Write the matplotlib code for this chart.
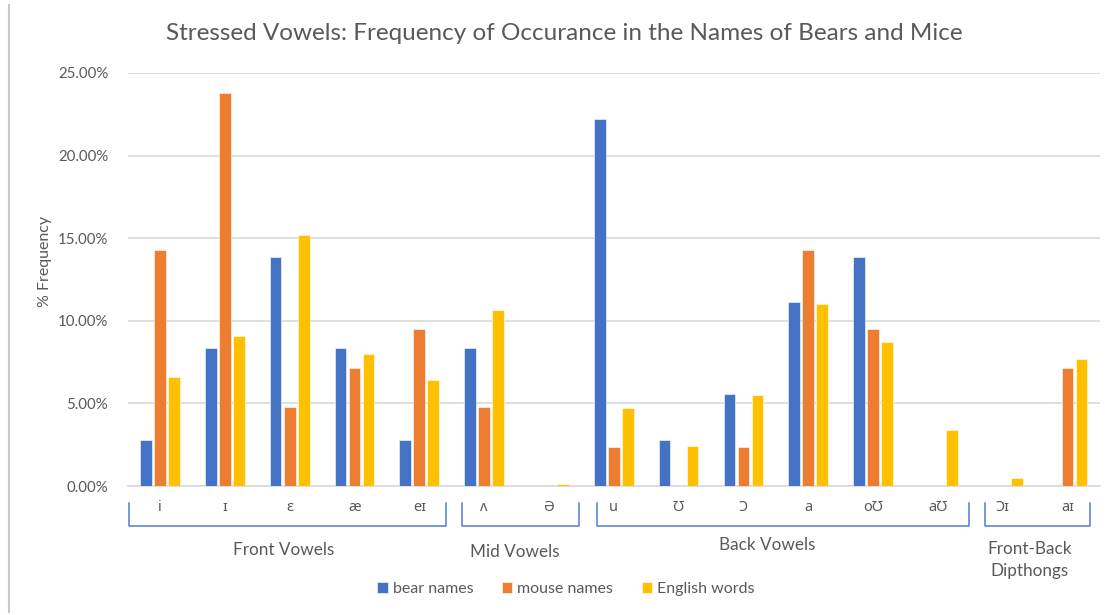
import matplotlib
matplotlib.use("Agg")
import matplotlib.pyplot as plt
import matplotlib.transforms as mtransforms
from matplotlib.lines import Line2D
import numpy as np

plt.rcParams['font.family'] = ['Lato', 'Noto Sans', 'DejaVu Sans']

categories = ["i", "ɪ", "ɛ", "æ", "eɪ", "ʌ", "Ə", "u", "Ʊ", "Ɔ", "a", "oƱ", "aƱ", "Ɔɪ", "aɪ"]
bear_names = [2.78, 8.33, 13.89, 8.33, 2.78, 8.33, 0.0, 22.22, 2.78, 5.56, 11.11, 13.89, 0.0, 0.0, 0.0]
mouse_names = [14.29, 23.81, 4.76, 7.14, 9.52, 4.76, 0.0, 2.38, 0.0, 2.38, 14.29, 9.52, 0.0, 0.0, 7.14]
english_words = [6.6, 9.1, 15.2, 8.0, 6.4, 10.65, 0.1, 4.7, 2.4, 5.5, 11.0, 8.7, 3.4, 0.5, 7.7]
series_names = ["bear names", "mouse names", "English words"]
group_names = ["Front Vowels", "Mid Vowels", "Back Vowels", "Front-Back\nDipthongs"]
group_ranges = [(0, 4), (5, 6), (7, 12), (13, 14)]

colors = ["#4472C4", "#ED7D31", "#FFC000"]
text_col = "#595959"
W, H = 1113, 615
fig = plt.figure(figsize=(W / 100, H / 100), dpi=100)
ax = fig.add_axes([127.6 / W, 1 - 486 / H, (1100 - 127.6) / W, (486 - 73) / H])

x = np.arange(len(categories))
off = 0.216
bw = 0.18
for k, (vals, c, name) in enumerate(zip([bear_names, mouse_names, english_words], colors, series_names)):
    ax.bar(x + (k - 1) * off, np.array(vals) / 100, width=bw, color=c, label=name,
           edgecolor="white", linewidth=0.4, zorder=3)

ax.set_xlim(-0.5, len(categories) - 0.5)
ax.set_ylim(0, 0.25)
ax.set_yticks(np.arange(0, 0.2501, 0.05))
ax.set_yticklabels([f"{v*100:.2f}%" for v in np.arange(0, 0.2501, 0.05)])
ax.yaxis.grid(True, color="#D9D9D9", linewidth=1.2, zorder=0)
ax.set_axisbelow(True)
for s in ["top", "right", "left"]:
    ax.spines[s].set_visible(False)
ax.spines["bottom"].set_color("#D9D9D9")
ax.spines["bottom"].set_linewidth(1.2)
ax.tick_params(axis="y", length=0, pad=14, labelsize=10.8, labelcolor=text_col)
ax.set_xticks(x)
ax.set_xticklabels(categories, family=['Noto Sans', 'DejaVu Sans'])
ax.tick_params(axis="x", length=0, pad=10, labelsize=10.5, labelcolor=text_col)

fig.text(45 / W, 1 - 261 / H, "% Frequency", rotation=90, ha="center", va="center",
         fontsize=11.5, color=text_col)

fig.text(564 / W, 1 - 33 / H, "Stressed Vowels: Frequency of Occurance in the Names of Bears and Mice",
         ha="center", va="center", fontsize=17.5, color=text_col)

# group brackets
trans = mtransforms.blended_transform_factory(ax.transData, fig.transFigure)
bracket_pad = [(0.48, 0.41), (0.34, 0.46), (0.26, 0.48), (0.28, 0.34)]
label_x = [1.90, 5.47, 9.36, 13.41]
label_y = [550, 552, 545, 560]
y_top = 1 - 503 / H
y_bot = 1 - 526 / H
for (a, b), (pl, pr), gname, lx, ly in zip(group_ranges, bracket_pad, group_names, label_x, label_y):
    x0, x1 = a - pl, b + pr
    fig.add_artist(Line2D([x0, x0, x1, x1], [y_top, y_bot, y_bot, y_top], transform=trans,
                          color="#4F7FCF", linewidth=1.1))
    fig.text(lx, 1 - ly / H, gname, transform=trans, ha="center", va="center",
             fontsize=12.3, color=text_col, linespacing=1.45)

# frame border on the left
fig.add_artist(Line2D([8.5 / W, 8.5 / W], [1 - 5 / H, 1 - 612 / H], transform=fig.transFigure,
                      color="#C8C8C8", linewidth=1.5))

fig.legend(loc="center", bbox_to_anchor=(566 / W, 1 - 589 / H), ncol=3, frameon=False,
           fontsize=11.5, handlelength=0.65, handleheight=0.65, handletextpad=0.3,
           columnspacing=1.8, labelcolor=text_col)

fig.savefig("out.png", dpi=100)
